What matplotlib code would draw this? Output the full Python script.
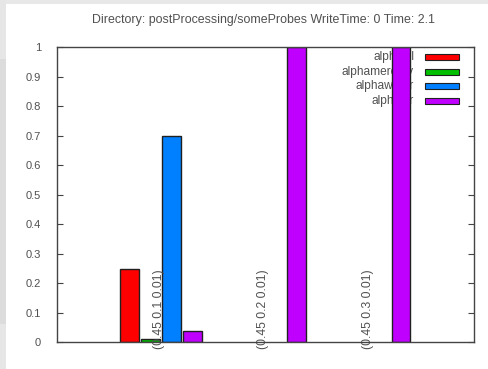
import matplotlib
matplotlib.use("Agg")
import matplotlib.pyplot as plt
from matplotlib.patches import Rectangle
import numpy as np

# Probe locations (one cluster per probe)
probes = ["(0.45 0.1 0.01)", "(0.45 0.2 0.01)", "(0.45 0.3 0.01)"]

# Phase fractions at each probe
series_names = ["alphaoil", "alphamercury", "alphawater", "alphaair"]
alphaoil = [0.25, 0.0, 0.0]
alphamercury = [0.01, 0.0, 0.0]
alphawater = [0.70, 0.0, 0.0]
alphaair = [0.04, 1.0, 1.0]
series_values = [alphaoil, alphamercury, alphawater, alphaair]

y_ticks = [0, 0.1, 0.2, 0.3, 0.4, 0.5, 0.6, 0.7, 0.8, 0.9, 1]
y_tick_labels = ["0", "0.1", "0.2", "0.3", "0.4", "0.5", "0.6", "0.7", "0.8", "0.9", "1"]

title = "Directory: postProcessing/someProbes WriteTime: 0 Time: 2.1"

colors = ["#ff0000", "#00c000", "#0080ff", "#c000ff"]
ink = "#444444"
text_ink = "#505050"
font = "Liberation Sans"

W, H = 488, 369
fig = plt.figure(figsize=(W / 100, H / 100), dpi=100)
fig.patch.set_facecolor("white")

# page margin strips
fig.add_artist(Rectangle((0, 1 - 4 / H), 1, 4 / H, transform=fig.transFigure,
                         facecolor="#e8e8e8", edgecolor="none", zorder=0))
fig.add_artist(Rectangle((0, 0), 6 / W, 1, transform=fig.transFigure,
                         facecolor="#e6e6e6", edgecolor="none", zorder=0))
fig.add_artist(Rectangle((0, 45 / H), 6 / W, (320 - 55) / H, transform=fig.transFigure,
                         facecolor="#dcdcdc", edgecolor="none", zorder=0))

left, right, top, bottom = 56.5, 474.0, 47.3, 342.3
ax = fig.add_axes([left / W, 1 - bottom / H, (right - left) / W, (bottom - top) / H])
ax.set_facecolor("white")

n = len(series_names)
slot = 1.0 / (n + 1)
x = np.arange(len(probes))
for j, (vals, col) in enumerate(zip(series_values, colors)):
    pos = x + (j - (n - 1) / 2) * slot
    bars = ax.bar(pos, vals, width=slot * 0.9, color=col, edgecolor="#202020",
                  linewidth=1.0, zorder=3)
    for b, v in zip(bars, vals):
        if v == 0:
            b.set_linewidth(0)

ax.set_xlim(-1, 3)
ax.set_ylim(0, 1)
ax.set_xticks([])
ax.set_yticks(y_ticks)
ax.set_yticklabels(y_tick_labels, fontfamily=font, fontsize=8, color=text_ink)
ax.tick_params(axis="y", direction="in", length=4, width=0.8, color=ink,
               right=True, pad=11)
for s in ax.spines.values():
    s.set_color(ink)
    s.set_linewidth(1.0)
    s.set_zorder(5)

# probe labels, rotated and rising from just below the axis
trans = matplotlib.transforms.blended_transform_factory(ax.transData, ax.transAxes)
for xi, lab in zip(x, probes):
    ax.text(xi - 0.02, -0.022, lab, rotation=90, ha="center", va="bottom",
            transform=trans, fontfamily=font, fontsize=8.7, color=text_ink, zorder=4)

# key drawn beneath the bars
for k, (name, col) in enumerate(zip(series_names, colors)):
    yc = 56.7 + k * 14.8
    ya = (bottom - yc) / (bottom - top)
    ax.text((414 - left) / (right - left), ya, name, ha="right", va="center",
            transform=ax.transAxes, fontfamily=font, fontsize=8.6, color=text_ink, zorder=1)
    ax.add_patch(Rectangle(((425 - left) / (right - left), ya - 3 / (bottom - top)),
                           34 / (right - left), 6 / (bottom - top),
                           transform=ax.transAxes, facecolor=col,
                           edgecolor="#202020", linewidth=0.8, zorder=2))

fig.text(263 / W, 1 - 20 / H, title, ha="center", va="center",
         fontfamily=font, fontsize=8.9, color=text_ink)

fig.savefig("out.png", dpi=100)
